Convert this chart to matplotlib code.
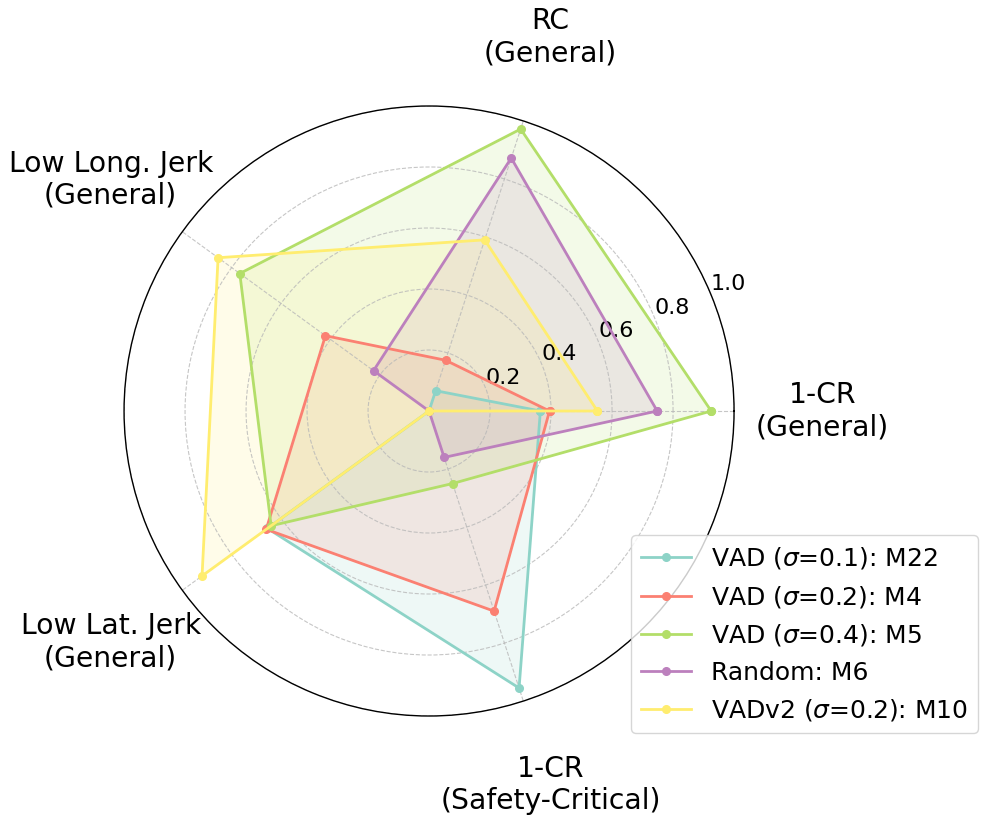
import numpy as np
import matplotlib
matplotlib.use("Agg")
import matplotlib.pyplot as plt

categories = ['1-CR\n(General)', 'RC\n(General)', 'Low Long. Jerk\n(General)',
              'Low Lat. Jerk\n(General)', '1-CR\n(Safety-Critical)']
series_names = [r'VAD ($\sigma$=0.1): M22', r'VAD ($\sigma$=0.2): M4',
                r'VAD ($\sigma$=0.4): M5', 'Random: M6', r'VADv2 ($\sigma$=0.2): M10']
m22 = [0.365, 0.07, 0.0, 0.655, 0.955]
m4 = [0.395, 0.175, 0.42, 0.66, 0.69]
m5 = [0.925, 0.972, 0.767, 0.64, 0.25]
m6 = [0.748, 0.872, 0.225, 0.0, 0.16]
m10 = [0.552, 0.59, 0.855, 0.92, 0.0]
r_ticks = [0.2, 0.4, 0.6, 0.8, 1.0]
r_tick_labels = ['0.2', '0.4', '0.6', '0.8', '1.0']

all_series = [m22, m4, m5, m6, m10]
colors = plt.cm.Set3(np.linspace(0, 1, len(all_series)))

n = len(categories)
angles = np.linspace(0, 2 * np.pi, n, endpoint=False)
angles_closed = np.concatenate([angles, angles[:1]])

fig = plt.figure(figsize=(9.86, 8.23), dpi=100)
ax = fig.add_axes([0.1258, 0.13, 0.6187, 0.7412], polar=True)

for vals, name, c in zip(all_series, series_names, colors):
    v = np.concatenate([vals, vals[:1]])
    ax.plot(angles_closed, v, '-o', color=c, linewidth=2, markersize=5.5, label=name)
    ax.fill(angles_closed, v, color=c, alpha=0.15)

ax.set_ylim(0, 1)
ax.set_yticks(r_ticks)
ax.set_yticklabels(r_tick_labels, fontsize=16)
ax.set_xticks(angles)
ax.set_xticklabels([])
ax.grid(True, linestyle='--', color='#b8b8b8', linewidth=0.8, alpha=0.8)
ax.spines['polar'].set_linewidth(1.0)

for ang, lab in zip(angles, categories):
    ax.text(ang, 1.29, lab, ha='center', va='center', fontsize=20.3)

ax.legend(loc='lower right', bbox_to_anchor=(0.992, 0.109), bbox_transform=fig.transFigure,
          borderaxespad=0, fontsize=18)

fig.savefig('out.png', dpi=100)
